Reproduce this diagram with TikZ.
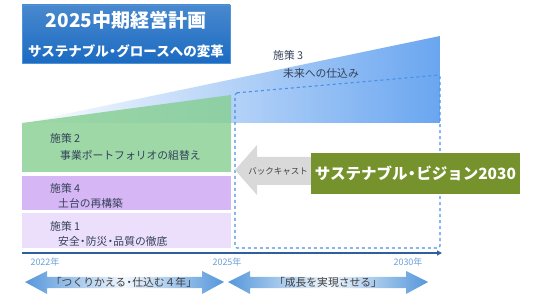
\documentclass[tikz,border=0pt]{standalone}
\usepackage{fontspec}
\setmainfont{Noto Sans CJK JP}
\usetikzlibrary{arrows.meta}
\definecolor{titleblue}{HTML}{1B6BC2}
\definecolor{titleedge}{HTML}{4F93DA}
\definecolor{wedgeblue}{HTML}{6AA6F0}
\definecolor{greenfill}{HTML}{84CE90}
\definecolor{purpleA}{HTML}{D7B6F5}
\definecolor{purpleB}{HTML}{ECDFFB}
\definecolor{dashblue}{HTML}{4A8FE6}
\definecolor{axisblue}{HTML}{2F5F9E}
\definecolor{yearblue}{HTML}{6A9FD8}
\definecolor{arrblue}{HTML}{5597DB}
\definecolor{txtdark}{HTML}{34425A}
\definecolor{txtgray}{HTML}{404040}
\definecolor{backgray}{HTML}{D9D9D9}
\definecolor{olivebox}{HTML}{76922C}
\newcommand{\nd}{\kern-0.22em・\kern-0.22em}
\tikzset{
  lbl/.style={inner sep=0pt, anchor=west, text=txtdark, font=\fontsize{10.8}{12}\selectfont},
  yearlbl/.style={inner sep=0pt, text=yearblue, font=\fontsize{9}{10}\selectfont},
  arrlbl/.style={inner sep=0pt, text=txtgray, font=\fontsize{10.8}{12}\selectfont},
  dblarrow/.style={left color=arrblue, right color=arrblue, middle color=arrblue!8!white},
}
\begin{document}
\begin{tikzpicture}[x=1pt,y=-1pt]
\useasboundingbox (0,0) rectangle (533,307);
% title box
\node[draw=titleedge, line width=0.8pt, top color=titleblue!80!white, bottom color=titleblue,
      minimum width=208pt, minimum height=58pt, inner sep=0pt] (title) at (126,34) {};
\node[inner sep=0pt, text=white, font=\fontsize{19}{22}\bfseries\selectfont] (t1) at (126,20) {2025中期経営計画};
\node[inner sep=0pt, text=white, font=\fontsize{13.5}{15}\bfseries\selectfont] (t2) at (126,51) {サステナブル\nd グロースへの変革};
% wedge
\shade[left color=white, right color=wedgeblue] (22,123) -- (440,36) -- (440,123) -- cycle;
% layers
\fill[greenfill, fill opacity=0.8] (22,123) -- (231,95) -- (231,172) -- (22,172) -- cycle;
\fill[purpleA] (22,176) rectangle (231,210);
\fill[purpleB] (22,213) rectangle (231,248);
% dashed future box
\draw[dashblue, dashed, line width=1.1pt, rounded corners=2pt] (235,93) -- (440,75) -- (440,248) -- (235,248) -- cycle;
% labels
\node[lbl] (s3a) at (273,55) {施策 3};
\node[lbl] (s3b) at (283,73) {未来への仕込み};
\node[lbl] (s2a) at (50,138) {施策 2};
\node[lbl] (s2b) at (60,155) {事業ポートフォリオの組替え};
\node[lbl] (s4a) at (50,188) {施策 4};
\node[lbl] (s4b) at (58,203) {土台の再構築};
\node[lbl] (s1a) at (50,226) {施策 1};
\node[lbl] (s1b) at (58,241) {安全\nd 防災\nd 品質の徹底};
% backcast arrow
\fill[backgray] (235,170) -- (257,145) -- (257,157) -- (315,157) -- (315,185) -- (257,185) -- (257,195) -- cycle;
\node[inner sep=0pt, text=txtgray, font=\fontsize{8.5}{10}\selectfont] (bc) at (278,171) {バックキャスト};
% vision box
\node[fill=olivebox, minimum width=209pt, minimum height=41pt, inner sep=0pt, text=white,
      font=\fontsize{15.5}{18}\bfseries\selectfont] (vision) at (415.5,173.5) {サステナブル\nd ビジョン2030};
% axis
\coordinate (ax0) at (22,253);
\coordinate (ax1) at (442,253);
\draw[axisblue, line width=1.6pt, -{Triangle[length=5pt,width=5pt]}] (ax0) -- (ax1);
\node[yearlbl] (y1) at (45,262) {2022年};
\node[yearlbl] (y2) at (227,262) {2025年};
\node[yearlbl] (y3) at (408,262) {2030年};
% double arrows
\shade[dblarrow] (25,282) -- (47,271) -- (47,277) -- (202,277) -- (202,271) -- (224,282) -- (202,294) -- (202,288) -- (47,288) -- (47,294) -- cycle;
\shade[dblarrow] (228,282) -- (250,271) -- (250,277) -- (406,277) -- (406,271) -- (428,282) -- (406,294) -- (406,288) -- (250,288) -- (250,294) -- cycle;
\node[arrlbl] (p1) at (124,282) {「つくりかえる\nd 仕込む４年」};
\node[arrlbl] (p2) at (328,282) {「成長を実現させる」};
\end{tikzpicture}
\end{document}
